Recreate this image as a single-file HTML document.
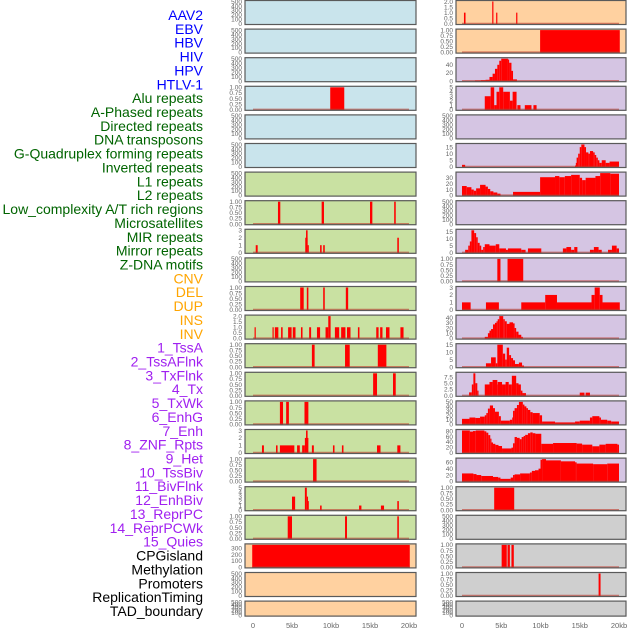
<!DOCTYPE html>
<html><head><meta charset="utf-8"><style>
html,body{margin:0;padding:0;background:#fff;width:630px;height:630px;overflow:hidden}
svg{display:block;font-family:"Liberation Sans",sans-serif}
</style></head><body>
<svg id="chart" width="630" height="630" viewBox="0 0 630 630" xmlns="http://www.w3.org/2000/svg"></svg>
<script>
// ---- data: segments [startKb, endKb, value] ----
const trackNames = ["AAV2","EBV","HBV","HIV","HPV","HTLV-1","Alu repeats","A-Phased repeats","Directed repeats","DNA transposons","G-Quadruplex forming repeats","Inverted repeats","L1 repeats","L2 repeats","Low_complexity A/T rich regions","Microsatellites","MIR repeats","Mirror repeats","Z-DNA motifs","CNV","DEL","DUP","INS","INV","1_TssA","2_TssAFlnk","3_TxFlnk","4_Tx","5_TxWk","6_EnhG","7_Enh","8_ZNF_Rpts","9_Het","10_TssBiv","11_BivFlnk","12_EnhBiv","13_ReprPC","14_ReprPCWk","15_Quies","CPGisland","Methylation","Promoters","ReplicationTiming","TAD_boundary"];
const labelColors = ["#0000ff","#0000ff","#0000ff","#0000ff","#0000ff","#0000ff","#006400","#006400","#006400","#006400","#006400","#006400","#006400","#006400","#006400","#006400","#006400","#006400","#006400","#ffa500","#ffa500","#ffa500","#ffa500","#ffa500","#a020f0","#a020f0","#a020f0","#a020f0","#a020f0","#a020f0","#a020f0","#a020f0","#a020f0","#a020f0","#a020f0","#a020f0","#a020f0","#a020f0","#a020f0","#000","#000","#000","#000","#000"];
const panelBg = ["#c9e4ec","#c9e4ec","#c9e4ec","#c9e4ec","#c9e4ec","#c9e4ec","#c9e1a2","#c9e1a2","#c9e1a2","#c9e1a2","#c9e1a2","#c9e1a2","#c9e1a2","#c9e1a2","#c9e1a2","#c9e1a2","#c9e1a2","#c9e1a2","#c9e1a2","#ffd1a0","#ffd1a0","#ffd1a0","#ffd1a0","#ffd1a0","#d5c5e3","#d5c5e3","#d5c5e3","#d5c5e3","#d5c5e3","#d5c5e3","#d5c5e3","#d5c5e3","#d5c5e3","#d5c5e3","#d5c5e3","#d5c5e3","#d5c5e3","#d5c5e3","#d5c5e3","#cfcfcf","#cfcfcf","#cfcfcf","#cfcfcf","#cfcfcf"];
const T500=[0,100,200,300,400,500], T1=[0,0.25,0.5,0.75,1];
const yMax = [500,500,500,1,500,500,500,1,3,500,1,2,1,1,1,3,1,5,1,350,500,500,2,1,55,5,500,17,38,500,16,1,3,43,15,9,50,82,70,1,500,1,1,500];
const yTicks = [T500,T500,T500,T1,T500,T500,T500,T1,[0,1,2,3],T500,T1,[0,0.5,1,1.5,2],T1,T1,T1,[0,1,2,3],T1,[0,1,2,3,4,5],T1,[0,100,200,300],T500,T500,[0,0.5,1,1.5,2],T1,[0,20,40],[0,1,2,3,4,5],T500,[0,5,10,15],[0,10,20,30],T500,[0,5,10,15],T1,[0,1,2,3],[0,10,20,30,40],[0,5,10,15],[0,2.5,5,7.5],[0,10,20,30,40,50],[0,20,40,60,80],[0,20,40,60],T1,T500,T1,T1,T500];
const tickDigits = [0,0,0,2,0,0,0,2,0,0,2,1,2,2,2,0,2,0,2,0,0,0,1,2,0,0,0,0,0,0,0,2,0,0,0,1,0,0,0,2,0,2,2,0];
const hiv=[[9.9,11.7,1]];
const aphased=[[3.2,3.5,1],[8.8,9.1,1],[15.0,15.3,1],[18.1,18.3,1]];
const directed=[[0.35,0.6,1],[6.7,7.0,2],[6.8,7.0,3],[7.0,7.1,1],[8.6,8.8,1],[9.0,9.2,1],[18.5,18.7,2]];
const gquad=[[6.05,6.5,1],[6.9,7.1,1],[9.0,9.2,1],[11.9,12.2,1]];
const inverted=[[0.2,0.35,1],[2.5,2.65,1],[2.8,3.25,1],[3.6,3.8,1],[4.5,4.95,1],[5.1,5.45,1],[6.15,6.35,1],[7.2,7.45,1],[8.2,8.6,1],[9.3,9.65,1],[9.65,9.95,2],[10.5,11.05,1],[11.3,11.85,1],[12.05,12.5,1],[13.45,13.65,1],[15.8,16.1,1],[16.3,16.6,1],[17.05,17.5,1],[18.9,19.3,1]];
const l1=[[7.55,7.9,1],[11.8,12.4,1],[16.0,17.1,1]];
const l2=[[15.4,15.9,1],[17.95,18.3,1]];
const lowc=[[3.45,3.85,1],[4.25,4.6,1],[6.6,7.1,1]];
const microsat=[[1.15,1.4,1],[2.95,3.15,1],[3.45,5.3,1],[5.65,6.0,1],[6.3,6.65,1],[6.65,7.1,2],[6.8,7.0,3],[7.55,7.8,1],[10.25,10.45,1],[11.4,11.6,1],[15.9,16.35,1],[18.5,18.9,1]];
const mir=[[7.7,8.15,1]];
const mirror=[[5.0,5.4,3],[6.65,6.9,5],[6.9,7.0,3],[7.0,7.1,2],[8.6,8.8,1],[13.6,13.9,1],[16.4,16.8,1],[18.5,18.7,2]];
const zdna=[[4.45,5.0,1],[11.8,12.05,1],[18.5,18.7,1]];
const cnv=[[-0.1,20.1,350]];
const ins=[[0.25,0.45,1],[3.85,4.0,2],[4.35,4.5,1],[6.9,7.0,1]];
const inv=[[9.95,20.1,1]];
const tssa=[[1.65,2.4,1],[2.4,3.0,2],[3.0,3.5,3],[3.5,3.9,10],[3.9,4.2,18],[4.2,4.5,30],[4.5,4.75,40],[4.75,5.0,50],[5.0,5.85,55],[5.85,6.0,53],[6.0,6.3,45],[6.3,6.5,25],[6.5,7.0,4]];
const tssaflnk=[[2.9,3.65,3],[3.65,4.1,5],[4.1,4.4,1],[4.4,4.75,4],[4.75,5.25,5],[5.25,6.1,4],[6.1,6.45,2],[6.45,6.95,4],[7.05,7.45,1],[8.0,8.85,1],[9.1,9.5,1]];
const tx=[[0,0.4,1.5],[14.4,14.5,1],[14.5,14.6,3],[14.6,14.8,7],[14.8,15.0,10],[15.0,15.2,15],[15.2,15.6,17],[15.6,15.8,15],[15.8,16.1,11],[16.1,16.3,10],[16.3,16.7,12],[16.7,16.9,11],[16.9,17.1,9],[17.1,17.3,7],[17.3,17.5,5],[17.5,17.8,3],[17.8,18.3,5],[18.3,18.8,3],[18.8,20.0,4]];
const txwk=[[0,0.6,16],[0.6,1.2,14],[1.2,1.5,10],[1.5,1.8,8],[1.8,2.3,12],[2.3,3.0,18],[3.0,3.3,15],[3.3,3.6,11],[3.6,4.0,7],[4.0,4.5,5],[4.5,4.9,3],[6.5,9.95,6],[9.95,11.85,31],[11.85,12.4,33],[12.4,13.1,31],[13.1,13.9,33],[13.9,15.0,35],[15.0,15.3,30],[15.3,15.75,26],[15.75,17.0,30],[17.0,17.6,33],[17.6,18.9,38],[18.9,20.0,37]];
const enh=[[0.4,0.8,2],[0.8,1.0,5],[1.0,1.2,8],[1.2,1.55,16],[1.55,1.8,14],[1.8,2.0,11],[2.0,2.25,7],[2.25,2.45,5],[2.45,2.7,2],[2.7,2.9,4],[2.9,3.5,6],[3.5,4.3,5],[4.3,4.75,6],[4.75,5.6,3],[5.6,5.85,2],[5.85,7.55,3],[7.55,8.1,2],[8.4,10.1,3],[12.85,13.3,3],[13.3,13.9,4],[13.9,14.3,2],[14.3,14.7,4],[16.3,16.8,2],[16.8,17.4,4],[17.4,17.8,2],[18.6,19.1,2],[19.1,19.7,5],[19.7,20.0,3]];
const znf=[[4.5,4.9,1],[5.8,7.8,1]];
const het=[[0,1.1,1],[3.05,4.7,1],[7.55,10.6,1],[10.6,12.1,2],[12.1,16.5,1],[16.5,16.9,2],[16.9,17.55,3],[17.55,17.9,2],[17.9,20.1,1]];
const tssbiv=[[2.9,3.3,3],[3.3,3.5,10],[3.5,3.7,15],[3.7,3.95,18],[3.95,4.2,27],[4.2,4.4,30],[4.4,4.55,33],[4.55,4.75,37],[4.75,5.25,43],[5.25,5.45,37],[5.45,5.7,33],[5.7,6.05,28],[6.05,6.5,31],[6.5,6.7,29],[6.7,6.9,20],[6.9,7.2,13],[7.2,7.55,7],[7.55,7.75,3]];
const bivflnk=[[3.05,3.7,2.5],[3.7,4.3,6.5],[4.3,4.5,2.5],[4.5,5.2,15],[5.2,5.5,9],[5.5,5.7,5],[5.7,6.0,13],[6.0,6.25,8],[6.25,6.5,6],[6.5,6.75,4.5],[6.75,7.25,2],[7.25,7.65,3],[7.65,7.9,1]];
const enhbiv=[[0.9,1.25,1.3],[1.25,1.45,4.5],[1.45,1.7,9],[1.7,1.95,5],[1.95,2.1,2],[2.9,3.5,4.5],[3.5,3.9,5.5],[3.9,4.5,6.3],[4.5,4.55,4.5],[4.55,5.1,5.5],[5.1,5.55,4.5],[5.55,5.95,5.5],[5.95,6.35,4.5],[6.35,6.9,8],[6.9,7.2,5],[7.2,7.5,4.5],[7.5,7.7,2],[7.7,8.15,1],[15.0,15.6,1.2],[15.75,16.3,1.2]];
const reprpc=[[0,0.95,12],[0.95,1.7,15],[1.7,2.3,14],[2.3,2.9,17],[2.9,3.1,20],[3.1,3.3,25],[3.3,3.55,35],[3.55,3.95,42],[3.95,4.2,36],[4.2,4.7,28],[4.7,4.95,18],[4.95,6.1,8],[6.1,6.4,10],[6.4,6.5,15],[6.5,6.7,30],[6.7,7.0,36],[7.0,7.25,43],[7.25,7.75,50],[7.75,7.95,44],[7.95,8.2,40],[8.2,8.4,36],[8.4,8.7,32],[8.7,9.0,27],[9.0,9.9,25],[9.9,10.2,20],[10.2,11.85,6],[11.85,14.4,4],[14.4,15.0,6],[15.0,16.3,8],[16.3,16.6,15],[16.6,17.5,18],[17.5,17.7,15],[17.7,18.5,10],[18.5,19.0,8],[19.0,20.0,6]];
const reprpcwk=[[0,1.0,82],[1.0,1.4,78],[1.4,1.75,80],[1.75,2.85,82],[2.85,3.1,79],[3.1,3.35,74],[3.35,3.6,65],[3.6,3.75,52],[3.75,3.95,38],[3.95,4.25,33],[4.25,4.65,29],[4.65,5.1,25],[5.1,6.3,16],[6.3,6.5,19],[6.5,6.7,35],[6.7,7.0,58],[7.0,7.35,55],[7.35,7.6,50],[7.6,7.85,58],[7.85,8.05,62],[8.05,8.4,66],[8.4,8.7,72],[8.7,9.0,75],[9.0,9.35,72],[9.35,10.1,70],[10.1,11.6,33],[11.6,14.6,36],[14.6,15.3,34],[15.3,16.6,30],[16.6,17.5,24],[17.5,18.3,30],[18.3,19.8,33],[19.8,20.0,30]];
const quies=[[0,1.45,25],[1.45,1.85,23],[1.85,2.45,20],[2.45,3.95,17],[3.95,4.6,14],[4.6,4.9,12],[4.9,6.2,8],[6.2,6.5,12],[6.5,6.7,20],[6.7,7.4,22],[7.4,8.65,25],[8.65,8.9,28],[8.9,9.3,33],[9.3,9.75,35],[9.75,10.0,40],[10.0,10.2,68],[10.2,10.7,70],[10.7,12.6,66],[12.6,14.4,63],[14.4,14.6,60],[14.6,16.7,56],[16.7,18.5,54],[18.5,20.0,56]];
const cpg=[[4.1,6.65,1]];
const promoters=[[5.05,5.7,1],[5.8,6.1,1],[6.3,6.6,1]];
const reptiming=[[17.4,17.65,1]];
const trackSegs=[[],[],[],hiv,[],[],[],aphased,directed,[],gquad,inverted,l1,l2,lowc,microsat,mir,mirror,zdna,cnv,[],[],ins,inv,tssa,tssaflnk,[],tx,txwk,[],enh,znf,het,tssbiv,bivflnk,enhbiv,reprpc,reprpcwk,quies,cpg,[],promoters,reptiming,[]];
const xTicks=[0,5,10,15,20];
const xTickLabels=["0","5kb","10kb","15kb","20kb"];

// ---- layout ----
const NS="http://www.w3.org/2000/svg";
const svg=document.getElementById("chart");
function mk(tag,attrs,parent){const e=document.createElementNS(NS,tag);for(const k in attrs)e.setAttribute(k,attrs[k]);(parent||svg).appendChild(e);return e;}
const cols=[{left:245,right:416,x0:253,x20:409},{left:456,right:626,x0:462,x20:619}];
function xScale(c,kb){return c.x0+(c.x20-c.x0)*kb/20;}
const PITCH=28.6;

// labels
trackNames.forEach((name,k)=>{
  const t=mk("text",{x:203,y:15+13.86*k+5,"text-anchor":"end","font-size":"14",fill:labelColors[k]});
  
  
  t.textContent=name;
});

trackNames.forEach((name,k)=>{
  const col=k<22?0:1, row=k%22, c=cols[col];
  const top=row*PITCH, h=row===21?16:25, bot=top+h;
  const g=mk("g",{});
  
  
  const y0=bot-1.2, y1=top+1.5, ym=yMax[k];
  const ys=v=>y0-(y0-y1)*v/ym;
  const bg=mk("rect",{x:c.left,y:top,width:c.right-c.left,height:h,fill:panelBg[k]},g);
  
  
  trackSegs[k].forEach(s=>{
    const xa=xScale(c,s[0]), xb=xScale(c,s[1]);
    const r=mk("rect",{x:xa,y:ys(s[2]),width:Math.max(1.2,xb-xa),height:y0-ys(s[2])+0.8,fill:"#ff0000"},g);
    
    
  });
  if(ym!==500){
    const bl=mk("line",{x1:xScale(c,0),x2:xScale(c,20),y1:y0,y2:y0,stroke:"#c0392b","stroke-opacity":"0.6","stroke-width":"2"},g);
    
    
  }
  const fr=mk("rect",{x:c.left,y:top+0.5,width:c.right-c.left,height:h-1,fill:"none",stroke:"#5a5a5a","stroke-width":"1.2"},g);
  
  
  yTicks[k].forEach(v=>{
    const tl=mk("text",{x:c.left-3,y:ys(v)+2.3,"text-anchor":"end","font-size":"6.5",fill:"#666"},g);
    
    
    tl.textContent=v.toFixed(tickDigits[k]);
  });
});

cols.forEach((c,ci)=>{
  xTicks.forEach((v,i)=>{
    const t=mk("text",{x:xScale(c,v),y:628,"text-anchor":"middle","font-size":"7.5",fill:"#666"});
    
    
    t.textContent=xTickLabels[i];
  });
});
</script>
</body></html>
